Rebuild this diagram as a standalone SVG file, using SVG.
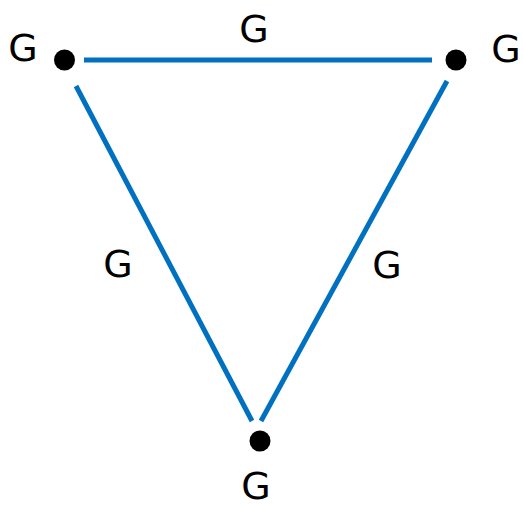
<svg xmlns="http://www.w3.org/2000/svg" width="523" height="505" viewBox="0 0 523 505">
  <style>
    .edge { stroke: #0070c0; stroke-width: 5; fill: none; }
    .dot { fill: #000; }
    .lbl { font-family: "DejaVu Sans", sans-serif; font-size: 38px; fill: #000; text-anchor: middle; }
  </style>
  <rect width="523" height="505" fill="#fff"/>
  <g id="connectors">
    <line class="edge" x1="84" y1="60" x2="432" y2="60"/>
    <line class="edge" x1="76" y1="86" x2="252" y2="421"/>
    <line class="edge" x1="447" y1="81" x2="261" y2="421"/>
    <text class="lbl" x="254" y="42">G</text>
    <text class="lbl" x="118" y="277">G</text>
    <text class="lbl" x="387" y="278">G</text>
  </g>
  <g id="node-a">
    <circle class="dot" cx="64.5" cy="60" r="10.5"/>
    <text class="lbl" x="23" y="61">G</text>
  </g>
  <g id="node-b">
    <circle class="dot" cx="456" cy="60" r="10.5"/>
    <text class="lbl" x="506" y="62">G</text>
  </g>
  <g id="node-c">
    <circle class="dot" cx="260" cy="441" r="10.5"/>
    <text class="lbl" x="256" y="499">G</text>
  </g>
</svg>
